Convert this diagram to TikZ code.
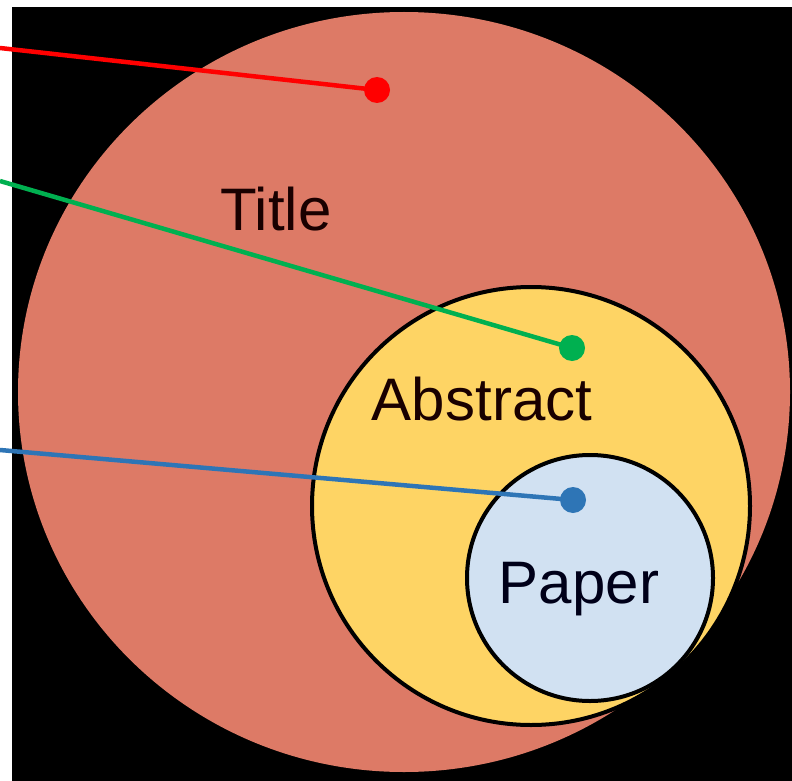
\documentclass[tikz,border=0pt]{standalone}
\usepackage{fontspec}
\setmainfont{Liberation Sans}
\usetikzlibrary{shapes.geometric}

\definecolor{titlefill}{RGB}{221,122,102}
\definecolor{abstractfill}{RGB}{254,212,100}
\definecolor{paperfill}{RGB}{209,225,242}
\definecolor{titlered}{RGB}{255,0,0}
\definecolor{abstractgreen}{RGB}{0,176,80}
\definecolor{paperblue}{RGB}{46,117,182}

\begin{document}
\begin{tikzpicture}[
    x=1pt, y=-1pt,
    setbox/.style={
        circle,
        draw=black,
        line width=4pt,
        inner sep=0pt
    },
    setlabel/.style={
        anchor=base,
        inner sep=0pt,
        font=\fontsize{60}{72}\selectfont
    },
    dot/.style={circle, inner sep=0pt, minimum size=26pt},
    lead/.style={line width=4.5pt}
]

\useasboundingbox (0,0) rectangle (792,781);
\fill[white] (0,0) rectangle (792,781);
\fill[black] (12,7) rectangle (792,781);

\node[ellipse, fill=titlefill, inner sep=0pt,
      minimum width=772pt, minimum height=760pt] (title) at (404,392) {};
\node[setbox, fill=abstractfill, minimum size=438pt] (abstract) at (531,506) {};
\node[setbox, fill=paperfill, minimum size=246pt] (paper) at (590,578) {};

\node[setlabel, text=black!90!red] (titletext) at (276,230) {Title};
\node[setlabel, text=black!90!red] (abstracttext) at (482,420) {Abstract};
\node[setlabel, text=black!90!blue] (papertext) at (579,603) {Paper};

\node[dot, fill=titlered] (titledot) at (377,90) {};
\node[dot, fill=abstractgreen] (abstractdot) at (572,348) {};
\node[dot, fill=paperblue] (paperdot) at (573,500) {};

\coordinate (titleend) at (0,48);
\coordinate (abstractend) at (0,181);
\coordinate (paperend) at (0,450);

\draw[lead, titlered] (titleend) -- (titledot.center);
\draw[lead, abstractgreen] (abstractend) -- (abstractdot.center);
\draw[lead, paperblue] (paperend) -- (paperdot.center);

\end{tikzpicture}
\end{document}
